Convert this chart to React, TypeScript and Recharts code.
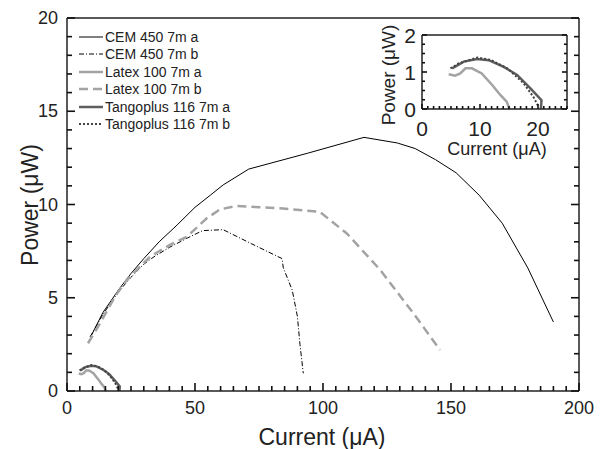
import { LineChart, Line, XAxis, YAxis } from "recharts";

interface Pt {
  x: number;
  y: number;
}

// Current (uA) vs power (uW)
const cem450A: Pt[] = [
  { x: 9.6, y: 3.0 }, { x: 14, y: 4.2 }, { x: 20, y: 5.4 }, { x: 25, y: 6.3 },
  { x: 30, y: 7.1 }, { x: 36, y: 8.0 }, { x: 43, y: 8.9 }, { x: 50, y: 9.85 },
  { x: 56, y: 10.5 }, { x: 61, y: 11.05 }, { x: 71, y: 11.9 }, { x: 94, y: 12.75 },
  { x: 116, y: 13.6 }, { x: 129, y: 13.3 }, { x: 136, y: 13.0 }, { x: 144, y: 12.4 },
  { x: 152, y: 11.7 }, { x: 161, y: 10.5 }, { x: 170, y: 9.0 }, { x: 180, y: 6.6 },
  { x: 190, y: 3.7 },
];

const cem450B: Pt[] = [
  { x: 9, y: 2.9 }, { x: 14, y: 4.1 }, { x: 20, y: 5.3 }, { x: 25, y: 6.1 },
  { x: 30, y: 6.8 }, { x: 34, y: 7.2 }, { x: 40, y: 7.7 }, { x: 47, y: 8.2 },
  { x: 53, y: 8.6 }, { x: 61, y: 8.65 }, { x: 72, y: 7.9 }, { x: 84, y: 7.1 },
  { x: 84.5, y: 6.6 }, { x: 88, y: 5.4 }, { x: 90, y: 4.0 }, { x: 91, y: 2.5 },
  { x: 92.3, y: 0.95 },
];

const latex100A: Pt[] = [
  { x: 4.6, y: 0.94 }, { x: 5.7, y: 0.9 }, { x: 6.6, y: 0.96 }, { x: 7.5, y: 1.1 },
  { x: 8.6, y: 1.1 }, { x: 10.3, y: 0.96 }, { x: 12.1, y: 0.65 }, { x: 13.5, y: 0.38 },
  { x: 14.6, y: 0.2 }, { x: 15.1, y: 0 },
];

const latex100B: Pt[] = [
  { x: 8.2, y: 2.56 }, { x: 12.9, y: 3.63 }, { x: 18.75, y: 5.06 }, { x: 23.3, y: 5.95 },
  { x: 32.4, y: 7.2 }, { x: 40.2, y: 7.83 }, { x: 46.8, y: 8.27 }, { x: 54.6, y: 9.26 },
  { x: 59.8, y: 9.74 }, { x: 66.3, y: 9.92 }, { x: 83.2, y: 9.8 }, { x: 98.8, y: 9.6 },
  { x: 109.3, y: 8.45 }, { x: 122.3, y: 6.5 }, { x: 135.3, y: 4.17 }, { x: 145.7, y: 2.2 },
];

const tango116A: Pt[] = [
  { x: 5.2, y: 1.1 }, { x: 7.2, y: 1.28 }, { x: 9.5, y: 1.35 }, { x: 11.5, y: 1.32 },
  { x: 14.1, y: 1.14 }, { x: 16.4, y: 0.92 }, { x: 18.7, y: 0.56 }, { x: 20.6, y: 0.24 },
  { x: 20.5, y: 0 },
];

const tango116B: Pt[] = [
  { x: 4.9, y: 1.1 }, { x: 6.3, y: 1.23 }, { x: 9.5, y: 1.39 }, { x: 11.8, y: 1.33 },
  { x: 14.7, y: 1.1 }, { x: 17.5, y: 0.7 }, { x: 19.2, y: 0.33 }, { x: 20.1, y: 0.06 },
];

const mainXTicks = [0, 50, 100, 150, 200];
const mainYTicks = [0, 5, 10, 15, 20];
const insetXTicks = [0, 10, 20];
const insetYTicks = [0, 1, 2];

const FONT = '"Liberation Sans", Arial, Helvetica, sans-serif';
const AXIS = "#222";

const series = [
  { name: "CEM 450 7m a", data: cem450A, stroke: "#000", width: 1, dash: undefined as string | undefined, inset: false },
  { name: "CEM 450 7m b", data: cem450B, stroke: "#000", width: 1, dash: "5 2 1 2", inset: false },
  { name: "Latex 100 7m a", data: latex100A, stroke: "#a3a3a3", width: 2.5, dash: undefined, inset: true },
  { name: "Latex 100 7m b", data: latex100B, stroke: "#a3a3a3", width: 2.5, dash: "9 5", inset: false },
  { name: "Tangoplus 116 7m a", data: tango116A, stroke: "#5e5e5e", width: 2.5, dash: undefined, inset: true },
  { name: "Tangoplus 116 7m b", data: tango116B, stroke: "#444", width: 2, dash: "2 2", inset: true },
];

// minor tick positions, built as integer steps to avoid float drift
const steps = (max: number, step: number) => {
  const out: number[] = [];
  const n = Math.round(max / step);
  for (let i = 0; i <= n; i++) out.push(+(i * step).toFixed(4));
  return out;
};

const isIn = (v: number, list: number[]) => list.some((t) => Math.abs(t - v) < 1e-6);

type Side = "bottom" | "top" | "left" | "right";

// edge = pixel position of the axis line, so ticks don't depend on recharts' tick offsets
function makeTick(side: Side, edge: number, labels: number[], minor: number, major: number, fontSize: number, gap: number) {
  return (props: any) => {
    const { x, y, payload } = props;
    const v = payload.value as number;
    const big = isIn(v, labels);
    const len = big ? major : minor;
    const ln = { stroke: "#111", strokeWidth: 1.6 };
    let line;
    if (side === "bottom") line = <line x1={x} y1={edge} x2={x} y2={edge - len} {...ln} />;
    else if (side === "top") line = <line x1={x} y1={edge} x2={x} y2={edge + len} {...ln} />;
    else if (side === "left") line = <line x1={edge} y1={y} x2={edge + len} y2={y} {...ln} />;
    else line = <line x1={edge} y1={y} x2={edge - len} y2={y} {...ln} />;
    let text = null;
    if (big && side === "bottom") {
      text = (
        <text x={x} y={edge + gap} textAnchor="middle" fill="#222" fontSize={fontSize} fontFamily={FONT}>
          {v}
        </text>
      );
    } else if (big && side === "left") {
      text = (
        <text x={edge - gap} y={y} textAnchor="end" dominantBaseline="central" fill="#222" fontSize={fontSize} fontFamily={FONT}>
          {v}
        </text>
      );
    }
    return (
      <g>
        {line}
        {text}
      </g>
    );
  };
}

// four-sided box with inward ticks; axes are 1px so the axis line sits on the plot edge
function Frame({ box, xMax, yMax, xStep, yStep, xLabels, yLabels, minor, major, fontSize, xGap, yGap }: any) {
  const xs = steps(xMax, xStep);
  const ys = steps(yMax, yStep);
  const axisLine = { stroke: AXIS, strokeWidth: 1.5 };
  return [
    <XAxis key="xb" xAxisId={0} type="number" dataKey="x" domain={[0, xMax]} ticks={xs} interval={0}
      allowDataOverflow height={1} tickSize={0} tickMargin={0} tickLine={false} axisLine={axisLine}
      tick={makeTick("bottom", box.bottom, xLabels, minor, major, fontSize, xGap)} />,
    <XAxis key="xt" xAxisId="top" orientation="top" type="number" domain={[0, xMax]} ticks={xs} interval={0}
      allowDataOverflow height={1} tickSize={0} tickMargin={0} tickLine={false} axisLine={axisLine}
      tick={makeTick("top", box.top, xLabels, minor, major, fontSize, 0)} />,
    <YAxis key="yl" yAxisId={0} type="number" domain={[0, yMax]} ticks={ys} interval={0}
      allowDataOverflow width={1} tickSize={0} tickMargin={0} tickLine={false} axisLine={axisLine}
      tick={makeTick("left", box.left, yLabels, minor, major, fontSize, yGap)} />,
    <YAxis key="yr" yAxisId="right" orientation="right" type="number" domain={[0, yMax]} ticks={ys} interval={0}
      allowDataOverflow width={1} tickSize={0} tickMargin={0} tickLine={false} axisLine={axisLine}
      tick={makeTick("right", box.right, yLabels, minor, major, fontSize, 0)} />,
  ];
}

const textStyle = { position: "absolute" as const, fontFamily: FONT, color: "#222", whiteSpace: "nowrap" as const };

// main plot box: 67..579 x 18..391 ; inset box on page: 422..567 x 35..109
const mainBox = { left: 67, right: 579, top: 18, bottom: 391 };
const insetBox = { left: 47, right: 192, top: 20, bottom: 94 };

export default function App() {
  return (
    <div style={{ position: "absolute", left: 0, top: 0, width: 604, height: 449, background: "#fff" }}>
      <LineChart width={604} height={449} margin={{ top: 17, right: 24, left: 66, bottom: 57 }}>
        {Frame({ box: mainBox, xMax: 200, yMax: 20, xStep: 5, yStep: 1, xLabels: mainXTicks, yLabels: mainYTicks, minor: 5, major: 8, fontSize: 18, xGap: 23, yGap: 9 })}
        {series.map((s) => (
          <Line key={s.name} data={s.data} dataKey="y" name={s.name} type="linear" stroke={s.stroke}
            strokeWidth={s.width} strokeDasharray={s.dash} dot={false} activeDot={false} isAnimationActive={false} />
        ))}
      </LineChart>

      <div style={{ ...textStyle, fontSize: 23, left: 322, top: 437, transform: "translate(-50%, -50%)" }}>
        Current (μA)
      </div>
      <div style={{ ...textStyle, fontSize: 23, left: 30, top: 205, transform: "translate(-50%, -50%) rotate(-90deg)" }}>
        Power (μW)
      </div>

      <div style={{ position: "absolute", left: 78, top: 28, fontFamily: FONT, fontSize: 14 }}>
        {series.map((s) => (
          <div key={s.name} style={{ display: "flex", alignItems: "center", height: 17.5 }}>
            <svg width={26} height={10}>
              <line x1={1} x2={25} y1={5} y2={5} stroke={s.stroke} strokeWidth={s.width} strokeDasharray={s.dash} />
            </svg>
            <span style={{ marginLeft: 1, color: "#222", whiteSpace: "nowrap" }}>{s.name}</span>
          </div>
        ))}
      </div>

      <div style={{ position: "absolute", left: 375, top: 15, width: 210, height: 155 }}>
        <LineChart width={210} height={155} margin={{ top: 19, right: 17, left: 46, bottom: 60 }}>
          {Frame({ box: insetBox, xMax: 25, yMax: 2, xStep: 1, yStep: 0.25, xLabels: insetXTicks, yLabels: insetYTicks, minor: 3, major: 5, fontSize: 21, xGap: 27, yGap: 6 })}
          {series.filter((s) => s.inset).map((s) => (
            <Line key={s.name} data={s.data} dataKey="y" name={s.name} type="linear" stroke={s.stroke}
              strokeWidth={s.width} strokeDasharray={s.dash} dot={false} activeDot={false} isAnimationActive={false} />
          ))}
        </LineChart>
      </div>
      <div style={{ ...textStyle, fontSize: 18, left: 497, top: 149, transform: "translate(-50%, -50%)" }}>
        Current (μA)
      </div>
      <div style={{ ...textStyle, fontSize: 19, left: 389, top: 75, transform: "translate(-50%, -50%) rotate(-90deg)" }}>
        Power (μW)
      </div>
    </div>
  );
}
